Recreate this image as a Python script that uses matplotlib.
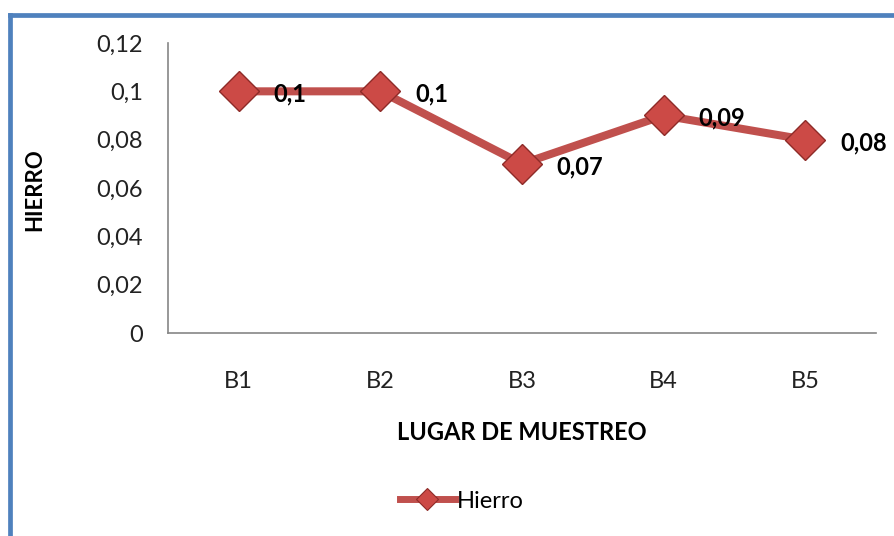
import matplotlib
matplotlib.use("Agg")
import matplotlib.pyplot as plt
import numpy as np
from matplotlib.lines import Line2D

# Data
sites = ["B1", "B2", "B3", "B4", "B5"]
hierro = [0.1, 0.1, 0.07, 0.09, 0.08]
y_ticks = [0, 0.02, 0.04, 0.06, 0.08, 0.1, 0.12]


def coma(v):
    """Format a number with a decimal comma, like Excel in Spanish."""
    s = f"{v:.2f}".rstrip("0").rstrip(".")
    return s.replace(".", ",")


plt.rcParams["font.family"] = ["Lato", "DejaVu Sans"]

W, H = 895, 536
fig = plt.figure(figsize=(W / 100, H / 100), dpi=100)

# plot area in pixel coords -> figure fraction
left, right, top, bottom = 168, 876, 43, 333
ax = fig.add_axes([left / W, 1 - bottom / H, (right - left) / W, (bottom - top) / H])

red = "#C0504D"
x = np.arange(len(sites))
ax.plot(x, hierro, color=red, lw=5.8, solid_joinstyle="miter", zorder=2)
ax.plot(x, hierro, ls="none", marker="D", ms=20, mfc="#CC4A46",
        mec="#8E2B28", mew=1.0, zorder=3)

for xi, v in zip(x, hierro):
    ax.annotate(coma(v), (xi, v), xytext=(25, -2), textcoords="offset points",
                ha="left", va="center", fontsize=17, fontweight="bold",
                color="black")

ax.set_xlim(-0.5, len(sites) - 0.5)
ax.set_ylim(0, 0.12)
ax.set_yticks(y_ticks)
ax.set_yticklabels([coma(t) for t in y_ticks])
ax.set_xticks(x)
ax.set_xticklabels(sites)
ax.tick_params(axis="y", length=0, pad=18, labelsize=17, labelcolor="#222222")
ax.tick_params(axis="x", length=0, pad=27, labelsize=17, labelcolor="#222222")

for s in ["top", "right"]:
    ax.spines[s].set_visible(False)
for s in ["left", "bottom"]:
    ax.spines[s].set_color("#868686")
    ax.spines[s].set_linewidth(1.2)

# axis titles
fig.text(35 / W, 1 - 190 / H, "HIERRO", rotation=90, ha="center", va="center",
         fontsize=16, fontweight="bold")
fig.text(522 / W, 1 - 432 / H, "LUGAR DE MUESTREO", ha="center", va="center",
         fontsize=17, fontweight="bold")

# legend
handle = Line2D([], [], color=red, lw=5, marker="D", ms=11, mfc="#CC4A46",
                mec="#8E2B28", mew=0.8)
fig.legend([handle], ["Hierro"], loc="center", bbox_to_anchor=(462 / W, 1 - 501 / H),
           frameon=False, fontsize=17, handlelength=2.3, handletextpad=0.1)

# blue chart border (top and left only visible)
fig.add_artist(Line2D([10.5 / W, 1], [1 - 15 / H, 1 - 15 / H], color="#4F81BD",
                      lw=3.4, transform=fig.transFigure))
fig.add_artist(Line2D([10.5 / W, 10.5 / W], [0, 1 - 15 / H], color="#4F81BD",
                      lw=3.4, transform=fig.transFigure))

fig.savefig("out.png", dpi=100, facecolor="white")
